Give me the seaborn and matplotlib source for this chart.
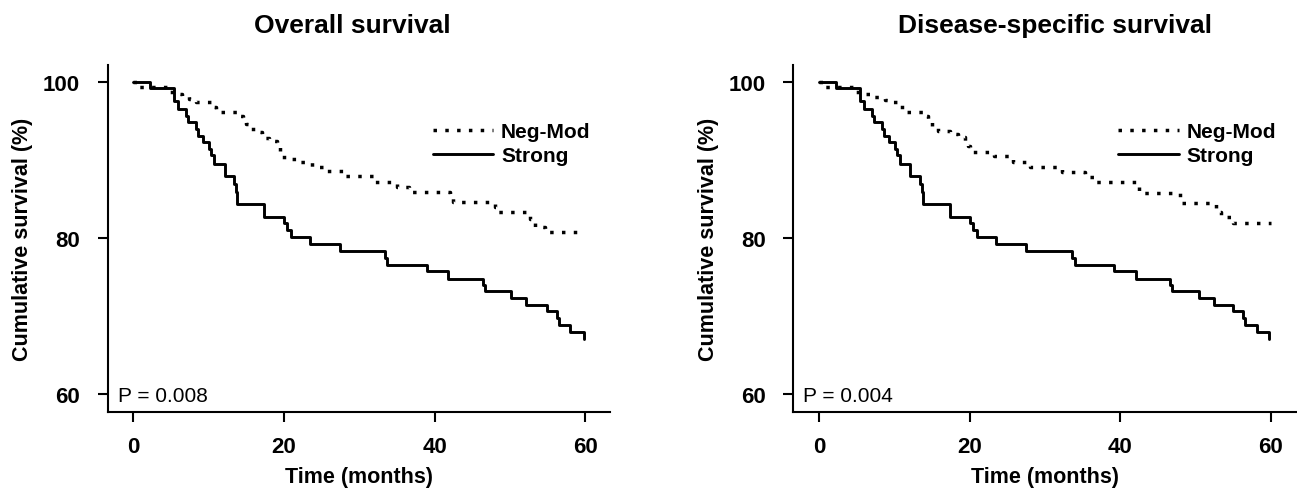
import pandas as pd
import numpy as np
import matplotlib
matplotlib.use('Agg')
import matplotlib.pyplot as plt
import seaborn as sns

# --------------------- DATA --------------------- #

groups = ['Neg-Mod', 'Strong']
titles = ['Overall survival', 'Disease-specific survival']
p_values = ['P = 0.008', 'P = 0.004']
x_ticks = [0, 20, 40, 60]
y_ticks = [60, 80, 100]

# Overall survival
os_neg_t = [0, 0.5, 4.5, 5.4, 6.5, 7.4, 8.3, 10.3, 11.0, 13.8, 14.5, 15.0, 15.6, 16.3, 17.1,
            18.0, 19.0, 19.5, 20.0, 22.0, 23.7, 25.5, 28.0, 32.1, 35.0, 36.6, 42.1, 42.4,
            48.0, 48.3, 52.7, 53.3, 54.7, 60]
os_neg_s = [100, 99.4, 98.8, 98.5, 98.2, 97.8, 97.5, 96.8, 96.2, 95.7, 95.1, 94.6, 94.0, 93.6, 92.9,
            92.4, 91.8, 91.0, 90.2, 89.7, 89.1, 88.6, 88.0, 87.2, 86.5, 85.9, 85.2, 84.6,
            84.0, 83.4, 82.5, 81.4, 80.8, 80.8]
os_strong_t = [0, 2.2, 5.4, 5.9, 7.0, 7.3, 8.3, 8.6, 9.2, 10.0, 10.3, 10.7, 12.1, 13.4, 13.6, 13.8,
               17.4, 20.0, 20.4, 20.9, 23.5, 27.4, 33.4, 33.7, 39.0, 41.8, 46.4, 46.7, 50.2,
               52.2, 54.9, 56.2, 56.5, 58.0, 59.8]
os_strong_s = [100, 99.2, 97.6, 96.6, 95.7, 94.9, 94.0, 93.1, 92.3, 91.4, 90.6, 89.5, 88.0, 87.0, 85.9, 84.4,
               82.7, 81.9, 81.0, 80.2, 79.3, 78.4, 77.5, 76.6, 75.8, 74.8, 74.0, 73.2, 72.3,
               71.4, 70.6, 69.7, 68.8, 67.9, 67.0]

# Disease-specific survival
dss_neg_t = [0, 0.5, 4.5, 5.8, 7.3, 8.7, 9.6, 10.6, 11.3, 13.9, 14.4, 15.0, 15.7, 17.3, 18.4,
             19.3, 19.8, 20.0, 23.2, 25.7, 28.0, 32.3, 35.3, 36.7, 42.1, 42.5, 47.9, 48.2,
             52.7, 53.3, 54.9, 60]
dss_neg_s = [100, 99.4, 98.8, 98.5, 98.1, 97.7, 97.5, 96.8, 96.2, 95.7, 95.1, 94.4, 93.8, 93.4, 93.0,
             92.5, 91.8, 91.1, 90.5, 89.7, 89.1, 88.5, 87.8, 87.2, 86.6, 85.8, 85.1, 84.5,
             83.4, 82.7, 82.0, 82.0]
dss_strong_t = [0, 2.2, 5.4, 5.9, 7.0, 7.3, 8.3, 8.6, 9.2, 10.0, 10.3, 10.7, 12.1, 13.4, 13.6, 13.8,
                17.4, 20.0, 20.4, 20.9, 23.5, 27.4, 33.6, 33.9, 39.2, 42.1, 46.6, 46.9, 50.4,
                52.4, 55.0, 56.3, 56.6, 58.2, 59.8]
dss_strong_s = [100, 99.2, 97.6, 96.6, 95.7, 94.9, 94.0, 93.1, 92.3, 91.4, 90.6, 89.5, 88.0, 87.0, 85.9, 84.4,
                82.7, 81.9, 81.0, 80.2, 79.3, 78.4, 77.5, 76.6, 75.8, 74.8, 74.0, 73.2, 72.3,
                71.4, 70.6, 69.7, 68.8, 67.9, 67.0]

panels = [
    [(os_neg_t, os_neg_s), (os_strong_t, os_strong_s)],
    [(dss_neg_t, dss_neg_s), (dss_strong_t, dss_strong_s)],
]

# --------------------- STYLE --------------------- #

sns.set_style('ticks')
plt.rcParams['font.family'] = ['Liberation Sans', 'DejaVu Sans']
plt.rcParams['axes.linewidth'] = 1.5
plt.rcParams['axes.edgecolor'] = 'black'
plt.rcParams['text.color'] = 'black'
plt.rcParams['axes.labelcolor'] = 'black'
plt.rcParams['xtick.color'] = 'black'
plt.rcParams['ytick.color'] = 'black'
plt.rcParams['xtick.major.width'] = 1.5
plt.rcParams['ytick.major.width'] = 1.5
plt.rcParams['xtick.major.size'] = 7
plt.rcParams['ytick.major.size'] = 7

line_styles = {'Neg-Mod': (0, (1, 2.4)), 'Strong': '-'}
line_widths = {'Neg-Mod': 2.5, 'Strong': 2.1}

fig = plt.figure(figsize=(12.97, 4.89), dpi=100)
axes = [fig.add_axes([0.0829, 0.1554, 0.3874, 0.7096]),
        fig.add_axes([0.6117, 0.1554, 0.3874, 0.7096])]
title_x = [0.488, 0.521]

for i, ax in enumerate(axes):
    for name, (t, s) in zip(groups, panels[i]):
        df = pd.DataFrame({'Time': t, 'Survival': s})
        sns.lineplot(x='Time', y='Survival', data=df, ax=ax, color='black', lw=line_widths[name],
                     drawstyle='steps-post', linestyle=line_styles[name],
                     estimator=None, sort=False, label=name)

    ax.set_xlim(-3.45, 63.3)
    ax.set_ylim(57.7, 102.2)
    ax.set_xticks(x_ticks)
    ax.set_yticks(y_ticks)
    sns.despine(ax=ax)
    ax.tick_params(axis='x', pad=10, labelsize=16)
    ax.tick_params(axis='y', pad=13, labelsize=16)
    for lab in ax.get_xticklabels() + ax.get_yticklabels():
        lab.set_fontweight('bold')

    ax.set_title(titles[i], fontsize=19, fontweight='bold', pad=24, x=title_x[i])
    ax.set_xlabel('Time (months)', fontsize=15.5, fontweight='bold', labelpad=7)
    ax.set_ylabel('Cumulative survival (%)', fontsize=15.5, fontweight='bold', labelpad=7)

    ax.text(0.02, 0.048, p_values[i], transform=ax.transAxes, fontsize=15, va='center')

    ax.legend(loc='upper left', bbox_to_anchor=(0.647, 0.835), frameon=False,
              prop={'weight': 'bold', 'size': 15}, handlelength=2.9, handletextpad=0.38,
              labelspacing=0.25, borderpad=0, borderaxespad=0)

plt.savefig('out.png', dpi=100)
